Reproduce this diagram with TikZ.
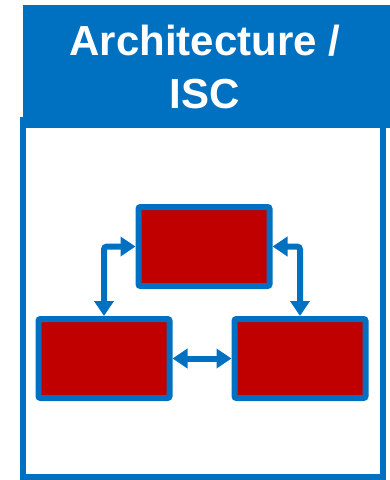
\documentclass[tikz,border=0pt]{standalone}
\usepackage{fontspec}
\setmainfont{Liberation Sans}
\usetikzlibrary{arrows.meta}
\definecolor{iscblue}{HTML}{0070C0}
\definecolor{iscred}{HTML}{C00000}

\begin{document}
\begin{tikzpicture}[x=1pt,y=-1pt,
    block/.style={draw=iscblue,fill=iscred,line width=6pt,rounded corners=2pt,minimum width=131pt,minimum height=79pt,inner sep=0pt},
    link/.style={draw=iscblue,line width=6pt,rounded corners=3pt,{Triangle[length=15pt,width=19pt]}-{Triangle[length=15pt,width=19pt]}}]
                \useasboundingbox (0,0) rectangle (390,480);
                \draw [iscblue,line width=6pt] (23,120) rectangle (383,477);
                \fill [iscblue] (23,5) rectangle (390,128);
                \node (title) at (205,67) [text=white,align=center,inner sep=0pt,font=\fontsize{42}{53}\selectfont\bfseries] {Architecture /\\ISC};
                \node [block] (top) at (204,246.5) {};
                \node [block] (left) at (104,358.5) {};
                \node [block] (right) at (300,358.5) {};
                \draw [link] (top.west) -| (left.north);
                \draw [link] (top.east) -| (right.north);
                \draw [link] (left.east) -- (right.west);
            \end{tikzpicture}
\end{document}
